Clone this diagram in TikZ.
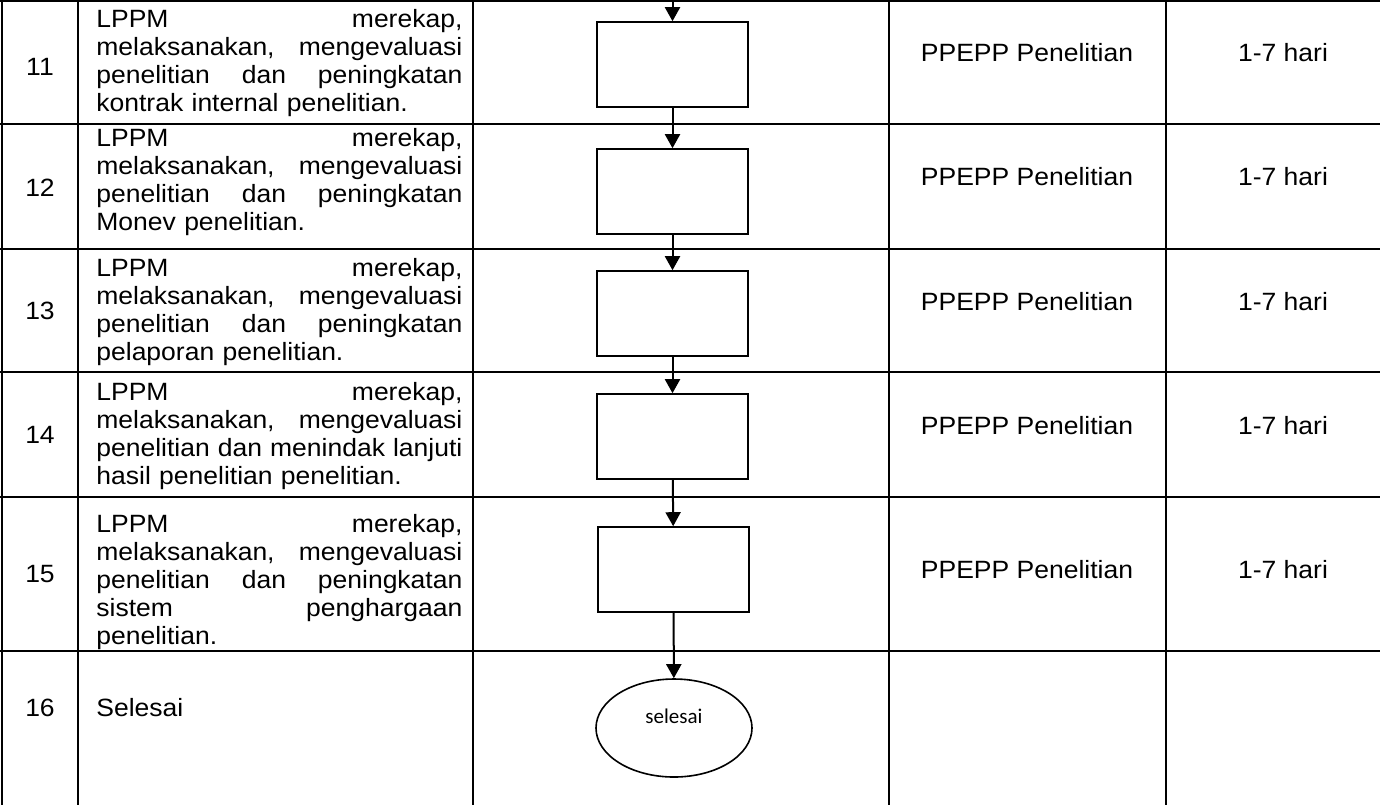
\documentclass[tikz,border=0pt]{standalone}
\usepackage{fontspec}
\setmainfont[FakeStretch=1.06]{Liberation Sans}
\newfontfamily\calibri{Carlito}
\usepackage{tikz}
\usetikzlibrary{arrows.meta,shapes}

\begin{document}
\begin{tikzpicture}[x=0.5pt, y=-0.5pt, >={Triangle[width=7.5pt,length=7pt]},
  box node/.style={rectangle, draw, line width=0.8pt, minimum width=75.5pt, minimum height=42.5pt, inner sep=0pt},
  end node/.style={ellipse, draw, line width=0.8pt, minimum width=78pt, minimum height=49pt, inner sep=0pt},
  txt node/.style={font=\fontsize{12.5}{14}\selectfont, inner sep=0pt},
  desc node/.style={txt node, anchor=west, text width=183pt, align=left},
  rule/.style={line width=1pt}, flow/.style={->, line width=1pt}]
\useasboundingbox (0,0) rectangle (1380,805);
% table
\draw[rule] (0,1) -- (1380,1);
\draw[rule] (0,124) -- (1380,124);
\draw[rule] (0,249) -- (1380,249);
\draw[rule] (0,372) -- (1380,372);
\draw[rule] (0,497) -- (1380,497);
\draw[rule] (0,651) -- (1380,651);
\draw[rule] (2,0) -- (2,805);
\draw[rule] (78,0) -- (78,805);
\draw[rule] (473,0) -- (473,805);
\draw[rule] (889,0) -- (889,805);
\draw[rule] (1166,0) -- (1166,805);
% numbers
\node[txt node] (n11) at (40,67) {11};
\node[txt node] (n12) at (40,188) {12};
\node[txt node] (n13) at (40,311) {13};
\node[txt node] (n14) at (40,435) {14};
\node[txt node] (n15) at (40,574) {15};
\node[txt node] (n16) at (40,708) {16};
% uraian
\node[desc node] (d11) at (96,63) {LPPM\hfill merekap,\\ melaksanakan,\hfill mengevaluasi\\ penelitian\hfill dan\hfill peningkatan\\ kontrak internal penelitian.};
\node[desc node] (d12) at (96,182) {LPPM\hfill merekap,\\ melaksanakan,\hfill mengevaluasi\\ penelitian\hfill dan\hfill peningkatan\\ Monev penelitian.};
\node[desc node] (d13) at (96,312) {LPPM\hfill merekap,\\ melaksanakan,\hfill mengevaluasi\\ penelitian\hfill dan\hfill peningkatan\\ pelaporan penelitian.};
\node[desc node] (d14) at (96,436) {LPPM\hfill merekap,\\ melaksanakan,\hfill mengevaluasi\\ penelitian\hfill dan\hfill menindak\hfill lanjuti\\ hasil penelitian penelitian.};
\node[desc node] (d15) at (96,582) {LPPM\hfill merekap,\\ melaksanakan,\hfill mengevaluasi\\ penelitian\hfill dan\hfill peningkatan\\ sistem\hfill penghargaan\\ penelitian.};
\node[desc node] (d16) at (96,708) {Selesai};
% flow
\coordinate (top) at (672.5,0);
\node[box node] (11) at (672.5,64.5) {};
\node[box node] (12) at (672.5,191.5) {};
\node[box node] (13) at (672.5,313.5) {};
\node[box node] (14) at (672.5,436.5) {};
\node[box node] (15) at (673.5,569.5) {};
\node[end node] (16) at (674,728) {};
\node[font=\calibri\fontsize{10.5}{12}\selectfont, inner sep=0pt] (selesai) at (674,716) {selesai};
\draw[flow] (top) -- (11.north);
\draw[flow] (11) -- (12);
\draw[flow] (12) -- (13);
\draw[flow] (13) -- (14);
\draw[flow] (14) -- (15);
\draw[flow] (15) -- (16);
% pelaksana, waktu
\node[txt node] (p11) at (1027,53) {PPEPP Penelitian};
\node[txt node] (p12) at (1027,177) {PPEPP Penelitian};
\node[txt node] (p13) at (1027,302) {PPEPP Penelitian};
\node[txt node] (p14) at (1027,426) {PPEPP Penelitian};
\node[txt node] (p15) at (1027,570) {PPEPP Penelitian};
\node[txt node] (h11) at (1283,53) {1-7 hari};
\node[txt node] (h12) at (1283,177) {1-7 hari};
\node[txt node] (h13) at (1283,302) {1-7 hari};
\node[txt node] (h14) at (1283,426) {1-7 hari};
\node[txt node] (h15) at (1283,570) {1-7 hari};
\end{tikzpicture}
\end{document}
